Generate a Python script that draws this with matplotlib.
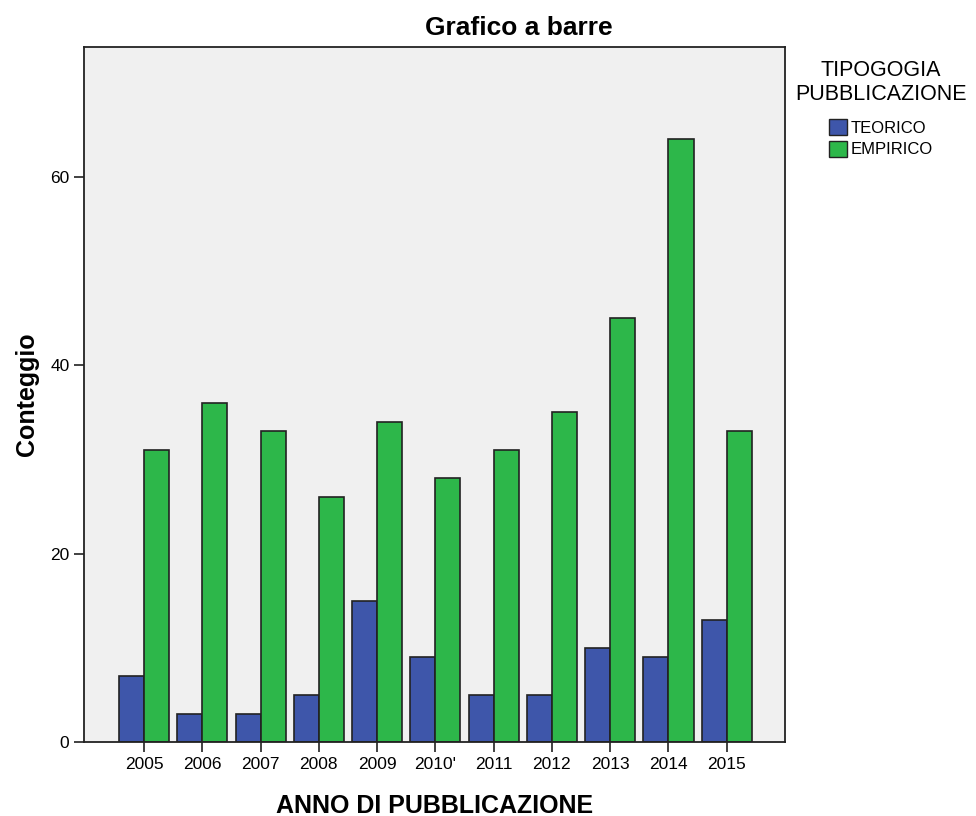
import numpy as np
import matplotlib.pyplot as plt
from matplotlib.patches import Patch

plt.rcParams['font.family'] = ['Liberation Sans', 'DejaVu Sans']

# data
anni = ['2005', '2006', '2007', '2008', '2009', "2010'", '2011', '2012', '2013', '2014', '2015']
teorico = [7, 3, 3, 5, 15, 9, 5, 5, 10, 9, 13]
empirico = [31, 36, 33, 26, 34, 28, 31, 35, 45, 64, 33]

col_teo = '#3E56AA'
col_emp = '#2DB74A'

fig = plt.figure(figsize=(9.76, 8.16), dpi=100)
ax = fig.add_axes([0.0861, 0.0907, 0.7182, 0.8517])
ax.set_facecolor('#F0F0F0')

x = np.arange(len(anni))
w = 0.43
ax.bar(x - w / 2, teorico, w, color=col_teo, edgecolor='#222222', linewidth=1.2, zorder=2)
ax.bar(x + w / 2, empirico, w, color=col_emp, edgecolor='#222222', linewidth=1.2, zorder=2)

ax.set_xlim(-1.03, 11.0)
ax.set_ylim(0, 73.8)
ax.set_xticks(x)
ax.set_xticklabels(anni, fontsize=12.5)
ax.set_yticks([0, 20, 40, 60])
ax.set_yticklabels(['0', '20', '40', '60'], fontsize=12.5)
ax.tick_params(axis='both', direction='out', length=7, width=1.3, color='#333333')
for s in ax.spines.values():
    s.set_linewidth(1.3)
    s.set_color('#222222')

ax.set_xlabel('ANNO DI PUBBLICAZIONE', fontsize=18, fontweight='bold', labelpad=16)
ax.set_ylabel('Conteggio', fontsize=18, fontweight='bold', labelpad=8)
fig.text(519 / 976, 1 - 28 / 816, 'Grafico a barre', fontsize=19, fontweight='bold',
         ha='center', va='center')

handles = [Patch(facecolor=col_teo, edgecolor='#222222', label='TEORICO'),
           Patch(facecolor=col_emp, edgecolor='#222222', label='EMPIRICO')]
leg = fig.legend(handles=handles, title='TIPOGOGIA\nPUBBLICAZIONE', loc='upper center',
                 bbox_to_anchor=(881 / 976, 1 - 60 / 816), frameon=False, fontsize=12,
                 title_fontsize=15.5, handlelength=1.05, handleheight=1.1, handletextpad=0.25,
                 labelspacing=0.3, borderaxespad=0, borderpad=0)
leg.get_title().set_multialignment('center')
leg._legend_box.sep = 10

fig.savefig('out.png', dpi=100)
